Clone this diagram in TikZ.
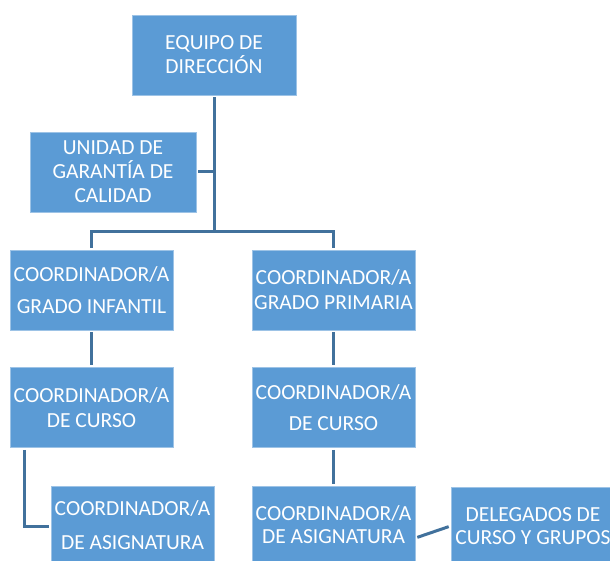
\documentclass[tikz,border=0pt]{standalone}
\usepackage{fontspec}
\setmainfont{Carlito}
\definecolor{boxfill}{HTML}{5B9BD5}
\definecolor{boxedge}{HTML}{9DC3E6}
\definecolor{linkcol}{HTML}{41719C}
\begin{document}
\begin{tikzpicture}[x=1pt,y=-1pt,
  orgbox/.style={rectangle, fill=boxfill, draw=boxedge, line width=0.8pt,
    minimum width=164pt, minimum height=80pt, inner sep=0pt, align=center,
    text=white, font=\fontsize{21.5}{24}\selectfont},
  link/.style={draw=linkcol, line width=3pt, shorten >=2pt, shorten <=2pt}]
\useasboundingbox (0,0) rectangle (610,561);
\clip (0,0) rectangle (610,561);
\node[orgbox] (top) at (214,55) {EQUIPO DE\\DIRECCIÓN};
\node[orgbox, minimum width=166pt] (ugc) at (113,172) {UNIDAD DE\\GARANTÍA DE\\CALIDAD};
\node[orgbox, minimum width=163pt] (l1) at (91.5,290) {COORDINADOR/A\\[8pt]GRADO INFANTIL};
\node[orgbox, minimum width=163pt] (r1) at (333.5,290) {COORDINADOR/A\\[1pt]GRADO PRIMARIA};
\node[orgbox, minimum width=163pt] (l2) at (91.5,407.5) {COORDINADOR/A\\[1pt]DE CURSO};
\node[orgbox, minimum width=163pt] (r2) at (333.5,407.5) {COORDINADOR/A\\[7pt]DE CURSO};
\node[orgbox, minimum width=163pt, minimum height=78pt] (l3) at (132.5,525) {COORDINADOR/A\\[10pt]DE ASIGNATURA};
\node[orgbox, minimum width=163pt, minimum height=78pt] (r3) at (333.5,525) {COORDINADOR/A\\[-1pt]DE ASIGNATURA};
\node[orgbox, minimum width=164pt, minimum height=78pt] (del) at (533,526) {DELEGADOS DE\\[-1pt]CURSO Y GRUPOS};
\coordinate (bar) at (214,232);
\draw[link] (top.south) -- (bar);
\draw[link] (l1.north) |- (bar) -| (r1.north);
\draw[link, shorten >=-1pt] (ugc.east) -- (ugc.east -| bar);
\draw[link] (l1.south) -- (l2.north);
\draw[link] (r1.south) -- (r2.north);
\draw[link] (r2.south) -- (r3.north);
\draw[link] ([xshift=15pt]l2.south west) |- ([yshift=-1pt]l3.west);
\draw[link] ([yshift=-13pt]r3.east) -- (del.west);
\end{tikzpicture}
\end{document}
